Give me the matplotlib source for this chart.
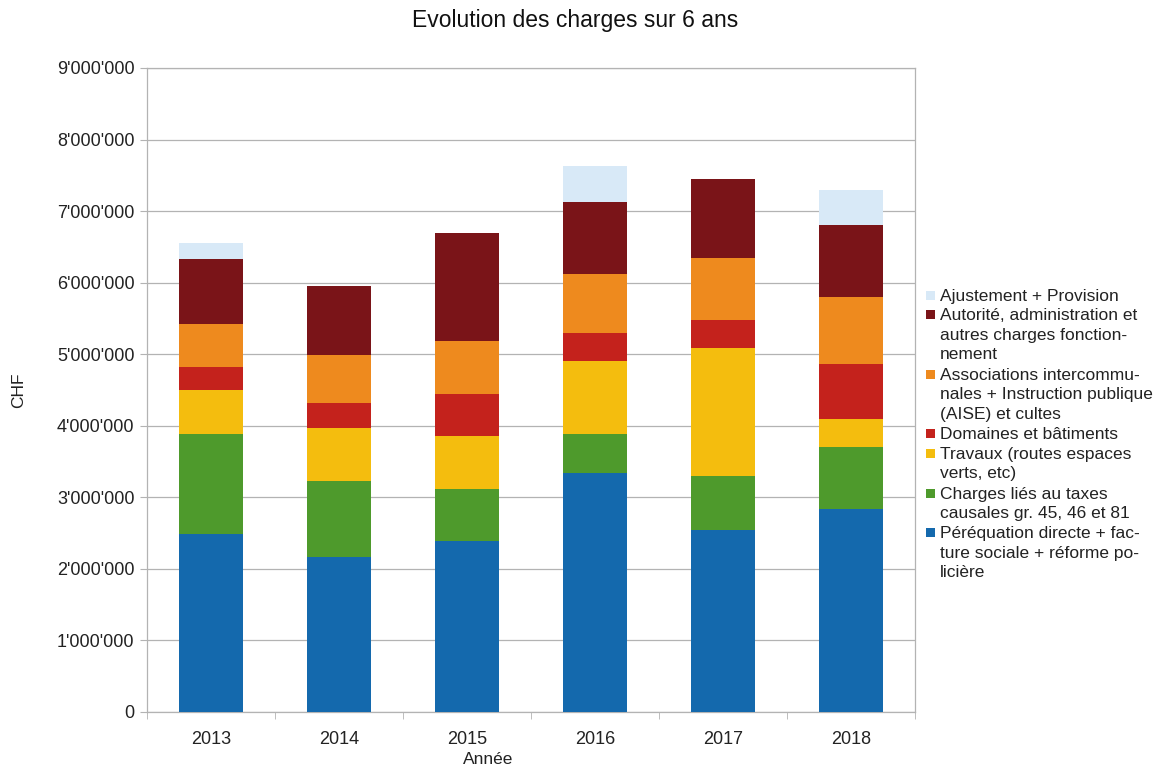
import matplotlib
matplotlib.use("Agg")
import matplotlib.pyplot as plt
from matplotlib.patches import Rectangle
from matplotlib.ticker import FuncFormatter, FixedLocator
import numpy as np

plt.rcParams['font.family'] = ['Liberation Sans', 'DejaVu Sans']

years = ["2013", "2014", "2015", "2016", "2017", "2018"]

perequation = [2488000, 2166000, 2395000, 3336000, 2542000, 2836000]
taxes_causales = [1396000, 1067000, 726000, 552000, 757000, 870000]
travaux = [619000, 734000, 735000, 1019000, 1790000, 387000]
domaines = [312000, 354000, 582000, 387000, 383000, 776000]
associations = [613000, 674000, 753000, 832000, 874000, 930000]
autorite = [903000, 963000, 1498000, 1000000, 1098000, 1000000]
ajustement = [228000, 0, 0, 505000, 0, 495000]

series = [
    ("Péréquation directe + fac-\nture sociale + réforme po-\nlicière", perequation, "#1469ad"),
    ("Charges liés au taxes\ncausales gr. 45, 46 et 81", taxes_causales, "#4e9a2c"),
    ("Travaux (routes espaces\nverts, etc)", travaux, "#f4bd0e"),
    ("Domaines et bâtiments", domaines, "#c4221c"),
    ("Associations intercommu-\nnales + Instruction publique\n(AISE) et cultes", associations, "#ee8a1e"),
    ("Autorité, administration et\nautres charges fonction-\nnement", autorite, "#7a1418"),
    ("Ajustement + Provision", ajustement, "#d8e9f7"),
]

fig = plt.figure(figsize=(11.66, 7.69), dpi=100)
ax = fig.add_axes([147/1166, 1 - 712/769, (915-147)/1166, (712-68)/769])

x = np.arange(len(years))
bottom = np.zeros(len(years))
for label, vals, col in series:
    v = np.array(vals, dtype=float)
    ax.bar(x, v, width=0.5, bottom=bottom, color=col, zorder=3, linewidth=0)
    bottom += v

ax.set_xlim(-0.5, len(years) - 0.5)
ax.set_ylim(0, 9000000)
ax.yaxis.set_major_locator(FixedLocator(np.arange(0, 9000001, 1000000)))
ax.yaxis.set_major_formatter(FuncFormatter(lambda v, p: f"{int(v):,}".replace(",", "'")))
ax.grid(axis='y', color='#b3b3b3', linewidth=0.9, zorder=0)
ax.set_xticks(x)
ax.set_xticklabels(years)
ax.set_xticks(np.arange(-0.5, len(years), 1.0), minor=True)
ax.tick_params(axis='x', which='major', length=0, labelsize=13, pad=14, colors='#222222')
ax.tick_params(axis='x', which='minor', length=5, color='#b3b3b3')
ax.tick_params(axis='y', length=5, color='#b3b3b3', labelsize=13, pad=4, labelcolor='#222222')
for s in ax.spines.values():
    s.set_color('#b3b3b3')
    s.set_linewidth(0.9)

ax.set_ylabel("CHF", fontsize=12.5, color='#222222', labelpad=22)
fig.text(488/1166, 1 - 760/769, "Année", ha='center', va='center', fontsize=12.5, color='#222222')
fig.text(575/1166, 1 - 20/769, "Evolution des charges sur 6 ans", ha='center', va='center',
         fontsize=16.5, color='#111111')

# legend (drawn manually, top entry first)
y0 = 295
line_h = 19.8
sq = 9
for label, vals, col in reversed(series):
    fig.patches.append(Rectangle((926/1166, 1 - (y0 + sq/2)/769), sq/1166, sq/769,
                                 transform=fig.transFigure, facecolor=col, edgecolor='none'))
    fig.text(940/1166, 1 - (y0 - 6.5)/769, label, ha='left', va='top', fontsize=12.5,
             color='#222222', linespacing=1.37)
    y0 += line_h * (label.count("\n") + 1)

fig.savefig("out.png", dpi=100)
